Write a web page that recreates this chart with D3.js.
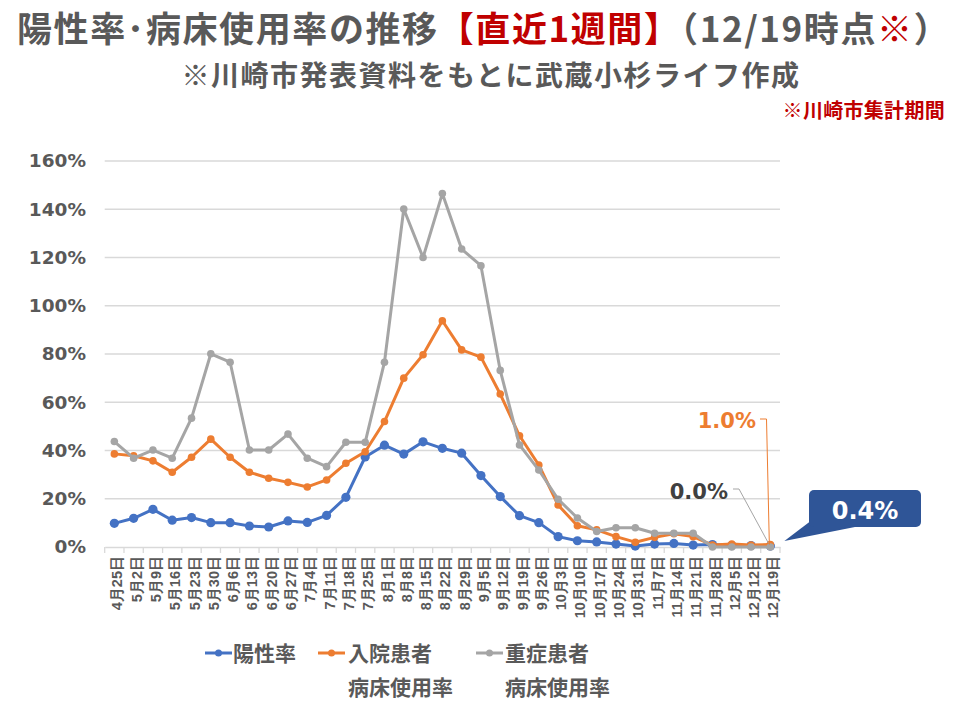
<!DOCTYPE html>
<html><head><meta charset="utf-8">
<script src="https://cdn.jsdelivr.net/npm/d3@7"></script>
<style>
body{margin:0;background:#fff;}
svg{display:block;font-family:"Noto Sans CJK JP","Noto Sans",sans-serif;font-weight:bold;}
</style></head>
<body>
<svg id="c" width="960" height="720"></svg>
<script>
const categories = ["4月25日","5月2日","5月9日","5月16日","5月23日","5月30日","6月6日","6月13日","6月20日","6月27日","7月4日","7月11日","7月18日","7月25日","8月1日","8月8日","8月15日","8月22日","8月29日","9月5日","9月12日","9月19日","9月26日","10月3日","10月10日","10月17日","10月24日","10月31日","11月7日","11月14日","11月21日","11月28日","12月5日","12月12日","12月19日"];
const positiveRate = [9.8,11.9,15.6,11.1,12.2,10.1,10.1,8.7,8.3,10.8,10.2,13.1,20.6,37.3,42.2,38.5,43.6,40.9,38.9,29.6,20.9,13.0,10.1,4.3,2.6,2.1,1.2,0.4,1.2,1.5,0.8,1.0,0.6,0.6,0.4];
const hospitalRate = [38.6,37.8,35.7,31.0,37.2,44.7,37.2,31.0,28.5,26.8,24.9,27.8,34.7,39.5,52.0,70.0,79.7,93.8,81.7,78.7,63.4,46.1,34.0,17.4,8.8,7.1,4.3,2.0,4.0,5.5,4.3,0.8,1.2,0.8,1.0];
const severeRate = [43.7,36.8,40.2,36.8,53.4,80.1,76.6,40.2,40.2,46.8,36.8,33.3,43.4,43.4,76.6,140.1,120.0,146.5,123.5,116.6,73.2,42.3,31.9,19.8,12.0,6.4,8.0,8.0,5.7,5.7,5.7,0,0,0,0];
const yTicks = [0,20,40,60,80,100,120,140,160];
const seriesNames = ["陽性率","入院患者","重症患者"];
const seriesSub = ["","病床使用率","病床使用率"];
const colors = ["#4472c4","#ed7d31","#a5a5a5"];

const svg = d3.select("#c");
const gray = "#595959";
const numFont = "'DejaVu Sans','Noto Sans',sans-serif";

// Titles
const t1 = svg.append("text").attr("x",17).attr("y",42).attr("font-size",35).attr("letter-spacing",1.6).attr("fill",gray);
[["陽性率･病床使用率の推移",gray],["【直近1週間】","#c00000"],["（12/19時点",gray],["※","#c00000"],["）",gray]]
  .forEach(([s,c],i,arr)=>{
    const ts = t1.append("tspan").attr("fill",c).text(s);
    if(i===arr.length-1) ts.attr("letter-spacing",0);
  });
svg.append("text").attr("x",491).attr("y",86).attr("text-anchor","middle").attr("font-size",28).attr("letter-spacing",1.5).attr("fill",gray)
  .text("※川崎市発表資料をもとに武蔵小杉ライフ作成");
svg.append("text").attr("x",945).attr("y",118).attr("text-anchor","end").attr("font-size",20).attr("letter-spacing",0.3).attr("fill","#c00000")
  .text("※川崎市集計期間");

const x = d3.scaleBand().domain(categories).range([104.7,780]).padding(0);
const y = d3.scaleLinear().domain([0,160]).range([547,161]);

// gridlines
svg.append("g").selectAll("line").data(yTicks.slice(1)).join("line")
  .attr("x1",104.7).attr("x2",780).attr("y1",d=>y(d)).attr("y2",d=>y(d))
  .attr("stroke","#d9d9d9").attr("stroke-width",1.3);

// y axis labels
const ya = svg.append("g").attr("transform","translate(86,0)")
  .call(d3.axisLeft(y).tickValues(yTicks).tickSize(0).tickPadding(0).tickFormat(d=>d+"%"));
ya.select(".domain").remove();
ya.selectAll("text").attr("font-size",18.5).attr("fill",gray).attr("font-family",numFont).attr("font-weight","bold");

// x axis
const xa = svg.append("g").attr("transform","translate(0,547)")
  .call(d3.axisBottom(x).tickSize(0).tickFormat(d=>d));
xa.select(".domain").attr("stroke","#d9d9d9").attr("stroke-width",1.3);
xa.selectAll(".tick line").remove();
xa.selectAll(".tick text").attr("font-size",14.5).attr("fill",gray).attr("font-family",null).attr("font-weight","bold")
  .attr("text-anchor","end").attr("transform","rotate(-90)").attr("x",-9).attr("y",3).attr("dy","0.35em");
// category boundary ticks
svg.append("g").selectAll("line").data(categories.concat(["_end"])).join("line")
  .attr("x1",(d,i)=>x.range()[0]+i*x.step()).attr("x2",(d,i)=>x.range()[0]+i*x.step())
  .attr("y1",547).attr("y2",553).attr("stroke","#d9d9d9").attr("stroke-width",1.3);

// series
const allSeries = [positiveRate,hospitalRate,severeRate];
const radii = [4.6,3.8,3.8];
const line = d3.line().x((d,i)=>x(categories[i])+x.bandwidth()/2).y(d=>y(d));
allSeries.forEach((s,k)=>{
  svg.append("path").datum(s).attr("d",line).attr("fill","none").attr("stroke",colors[k])
    .attr("stroke-width",3).attr("stroke-linejoin","round");
  svg.append("g").selectAll("circle").data(s).join("circle")
    .attr("cx",(d,i)=>x(categories[i])+x.bandwidth()/2).attr("cy",d=>y(d)).attr("r",radii[k]).attr("fill",colors[k]);
});

// annotations
const lastX = x(categories[34])+x.bandwidth()/2;
svg.append("polyline").attr("points",`760,419 766.5,419 ${lastX-1},${y(hospitalRate[34])}`)
  .attr("fill","none").attr("stroke","#ed7d31").attr("stroke-width",1);
svg.append("text").attr("x",756).attr("y",428).attr("text-anchor","end").attr("font-size",21).attr("font-family",numFont).attr("fill","#ed7d31").text("1.0%");
svg.append("polyline").attr("points",`733,489 739,489 ${lastX-2},${y(severeRate[34])-4}`)
  .attr("fill","none").attr("stroke","#a5a5a5").attr("stroke-width",1);
svg.append("text").attr("x",728).attr("y",499).attr("text-anchor","end").attr("font-size",21).attr("font-family",numFont).attr("fill","#404040").text("0.0%");
svg.append("path").attr("d",`M812,520 L${lastX+14},${y(positiveRate[34])-5} L860,526 Z`).attr("fill","#2f5597");
svg.append("rect").attr("x",809).attr("y",490).attr("width",112).attr("height",37).attr("rx",5).attr("fill","#2f5597");
svg.append("text").attr("x",865).attr("y",519).attr("text-anchor","middle").attr("font-size",24).attr("font-family",numFont).attr("fill","#fff").text("0.4%");

// legend
const lg = [{x:205,tx:233},{x:318,tx:348},{x:476,tx:505}];
lg.forEach((p,k)=>{
  svg.append("line").attr("x1",p.x).attr("x2",p.x+27).attr("y1",653).attr("y2",653).attr("stroke",colors[k]).attr("stroke-width",3);
  svg.append("circle").attr("cx",p.x+13.5).attr("cy",653).attr("r",3.5).attr("fill",colors[k]);
  svg.append("text").attr("x",p.tx).attr("y",661).attr("font-size",21).attr("fill",gray).text(seriesNames[k]);
  if(seriesSub[k]) svg.append("text").attr("x",p.tx).attr("y",695).attr("font-size",21).attr("fill",gray).text(seriesSub[k]);
});
</script>
</body></html>
